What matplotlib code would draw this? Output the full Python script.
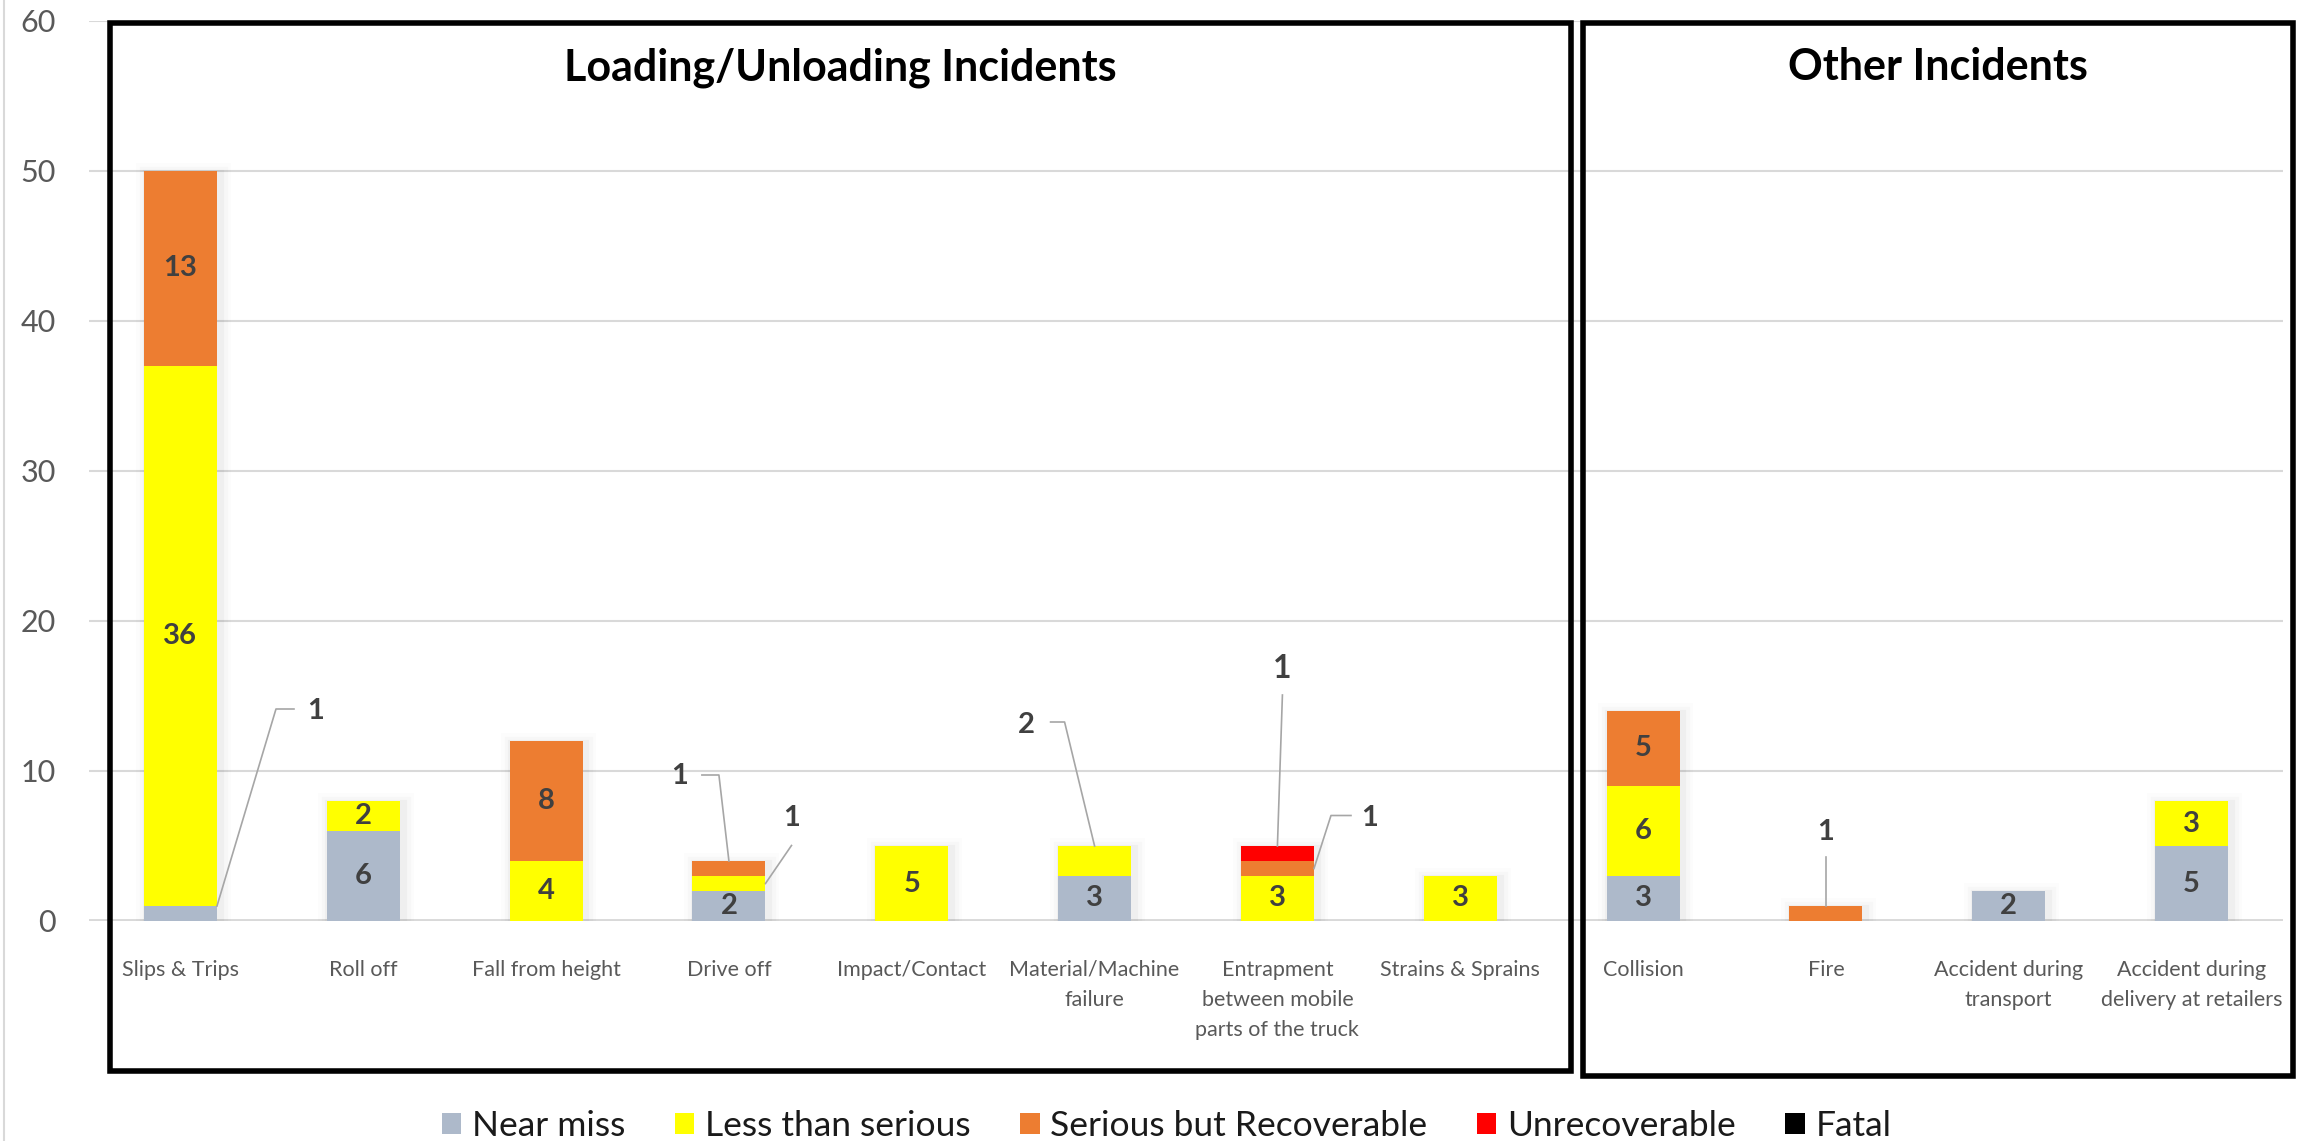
import matplotlib
matplotlib.use("Agg")
import matplotlib.pyplot as plt
import matplotlib.patheffects as pe
from matplotlib.patches import Patch, Rectangle
from matplotlib.lines import Line2D
from matplotlib.transforms import IdentityTransform
import numpy as np

plt.rcParams["font.family"] = ["Lato", "DejaVu Sans"]

categories = [
    "Slips & Trips", "Roll off", "Fall from height", "Drive off", "Impact/Contact",
    "Material/Machine\nfailure", "Entrapment\nbetween mobile\nparts of the truck",
    "Strains & Sprains", "Collision", "Fire", "Accident during\ntransport",
    "Accident during\ndelivery at retailers",
]
near_miss = [1, 6, 0, 2, 0, 3, 0, 0, 3, 0, 2, 5]
less_than_serious = [36, 2, 4, 1, 5, 2, 3, 3, 6, 0, 0, 3]
serious_recoverable = [13, 0, 8, 1, 0, 0, 1, 0, 5, 1, 0, 0]
unrecoverable = [0, 0, 0, 0, 0, 0, 1, 0, 0, 0, 0, 0]
fatal = [0, 0, 0, 0, 0, 0, 0, 0, 0, 0, 0, 0]

series = [near_miss, less_than_serious, serious_recoverable, unrecoverable, fatal]
series_names = ["Near miss", "Less than serious", "Serious but Recoverable", "Unrecoverable", "Fatal"]
series_colors = ["#ADB9CA", "#FFFF00", "#ED7D31", "#FF0000", "#000000"]
group_titles = ["Loading/Unloading Incidents", "Other Incidents"]
y_ticks = [0, 10, 20, 30, 40, 50, 60]

# small segments get their label pulled out on a leader line:
# (series, category, anchor, line vertices in px from anchor, label offset in px, font size)
callouts = [
    (0, 0, "right_top", [(59, 197), (77, 197)], (99, 195), 21),
    (2, 3, "top", [(-10, 86), (-27, 86)], (-49, 85), 21),
    (1, 3, "right_mid", [(26, 38)], (26, 65), 21),
    (1, 5, "top", [(-30, 124), (-44, 124)], (-68, 121), 21),
    (3, 6, "top", [(5, 151)], (5, 177), 23),
    (2, 6, "right_mid", [(17, 53), (37, 53)], (56, 51), 21),
    (2, 9, "top", [(0, 49)], (0, 74), 21),
]

W, H = 2310, 1141
fig = plt.figure(figsize=(W / 100, H / 100), dpi=100)
fig.set_facecolor("white")
ax = fig.add_axes([89 / W, 1 - 921 / H, (2283 - 89) / W, (921 - 21) / H])

x = np.arange(len(categories))
bar_width = 0.4
totals = np.sum(np.array(series), axis=0)

# soft drop shadow behind each stacked column
shadow = [
    pe.Stroke(linewidth=lw, foreground="black", alpha=a, offset=(2, -2))
    for lw, a in ((16, 0.012), (11, 0.02), (6, 0.03))
]
ax.bar(x, totals, width=bar_width, color="white", linewidth=0, zorder=1.5, path_effects=shadow)

bottoms = np.zeros(len(categories))
for vals, color in zip(series, series_colors):
    ax.bar(x, vals, bottom=bottoms, width=bar_width, color=color, linewidth=0, zorder=2)
    bottoms += np.array(vals)

ax.set_xlim(-0.5, len(categories) - 0.5)
ax.set_ylim(0, 60)
ax.set_yticks(y_ticks)
ax.set_xticks(x, categories)
ax.yaxis.grid(True, color="#D9D9D9", linewidth=1.5, zorder=0)
ax.set_axisbelow(True)
ax.axhline(0, color="#D9D9D9", linewidth=3.5, zorder=1)
for side in ax.spines:
    ax.spines[side].set_visible(False)
ax.tick_params(axis="y", length=0, pad=24, labelsize=22, labelcolor="#595959")
ax.tick_params(axis="x", length=0, pad=28, labelsize=15.5, labelcolor="#595959")
for lbl in ax.get_xticklabels():
    lbl.set_linespacing(1.62)

label_style = dict(ha="center", va="center", fontweight="bold", color="#404040")
pulled = {(s, c) for s, c, *_ in callouts}
bottoms = np.zeros(len(categories))
for s, vals in enumerate(series):
    for c, v in enumerate(vals):
        if v > 0 and (s, c) not in pulled:
            ax.text(x[c], bottoms[c] + v / 2, str(v), fontsize=21, zorder=3, **label_style)
    bottoms += np.array(vals)

# leader-line labels, laid out in pixel offsets from the segment they describe
cum = np.cumsum(np.array(series), axis=0)
for s, c, anchor, path, text_off, size in callouts:
    v = series[s][c]
    top = cum[s][c]
    if anchor == "top":
        ax_pt = (x[c], top)
    elif anchor == "right_top":
        ax_pt = (x[c] + bar_width / 2, top)
    else:
        ax_pt = (x[c] + bar_width / 2, top - v / 2)
    px, py = ax.transData.transform(ax_pt)
    xs = [px] + [px + dx for dx, dy in path]
    ys = [py] + [py + dy for dx, dy in path]
    fig.add_artist(Line2D(xs, ys, transform=IdentityTransform(), color="#A6A6A6",
                          linewidth=1.2, zorder=4))
    fig.text(px + text_off[0], py + text_off[1], str(v), transform=IdentityTransform(),
             fontsize=size, **label_style)

# boxes grouping the two incident families
boxes = [(110, 23, 1571, 1071), (1583, 23, 2293, 1076)]
for (x0, y0, x1, y1), title in zip(boxes, group_titles):
    fig.add_artist(Rectangle((x0 / W, 1 - y1 / H), (x1 - x0) / W, (y1 - y0) / H,
                             transform=fig.transFigure, fill=False, edgecolor="black",
                             linewidth=4, zorder=5))
    fig.text((x0 + x1) / 2 / W, 1 - 80 / H, title, ha="center", va="baseline",
             fontsize=31, fontweight="bold", color="black")

fig.add_artist(Line2D([4 / W, 4 / W], [0, 1], transform=fig.transFigure,
                      color="#D9D9D9", linewidth=1.5))

handles = [Patch(facecolor=c, edgecolor="none") for c in series_colors]
fig.legend(handles, series_names, loc="center", bbox_to_anchor=(0.505, 1 - 1126 / H),
           ncol=5, frameon=False, fontsize=25.5, labelcolor="#1A1A1A",
           handlelength=0.55, handleheight=0.55, handletextpad=0.3, columnspacing=1.4)

fig.savefig("out.png", dpi=100, facecolor="white")
